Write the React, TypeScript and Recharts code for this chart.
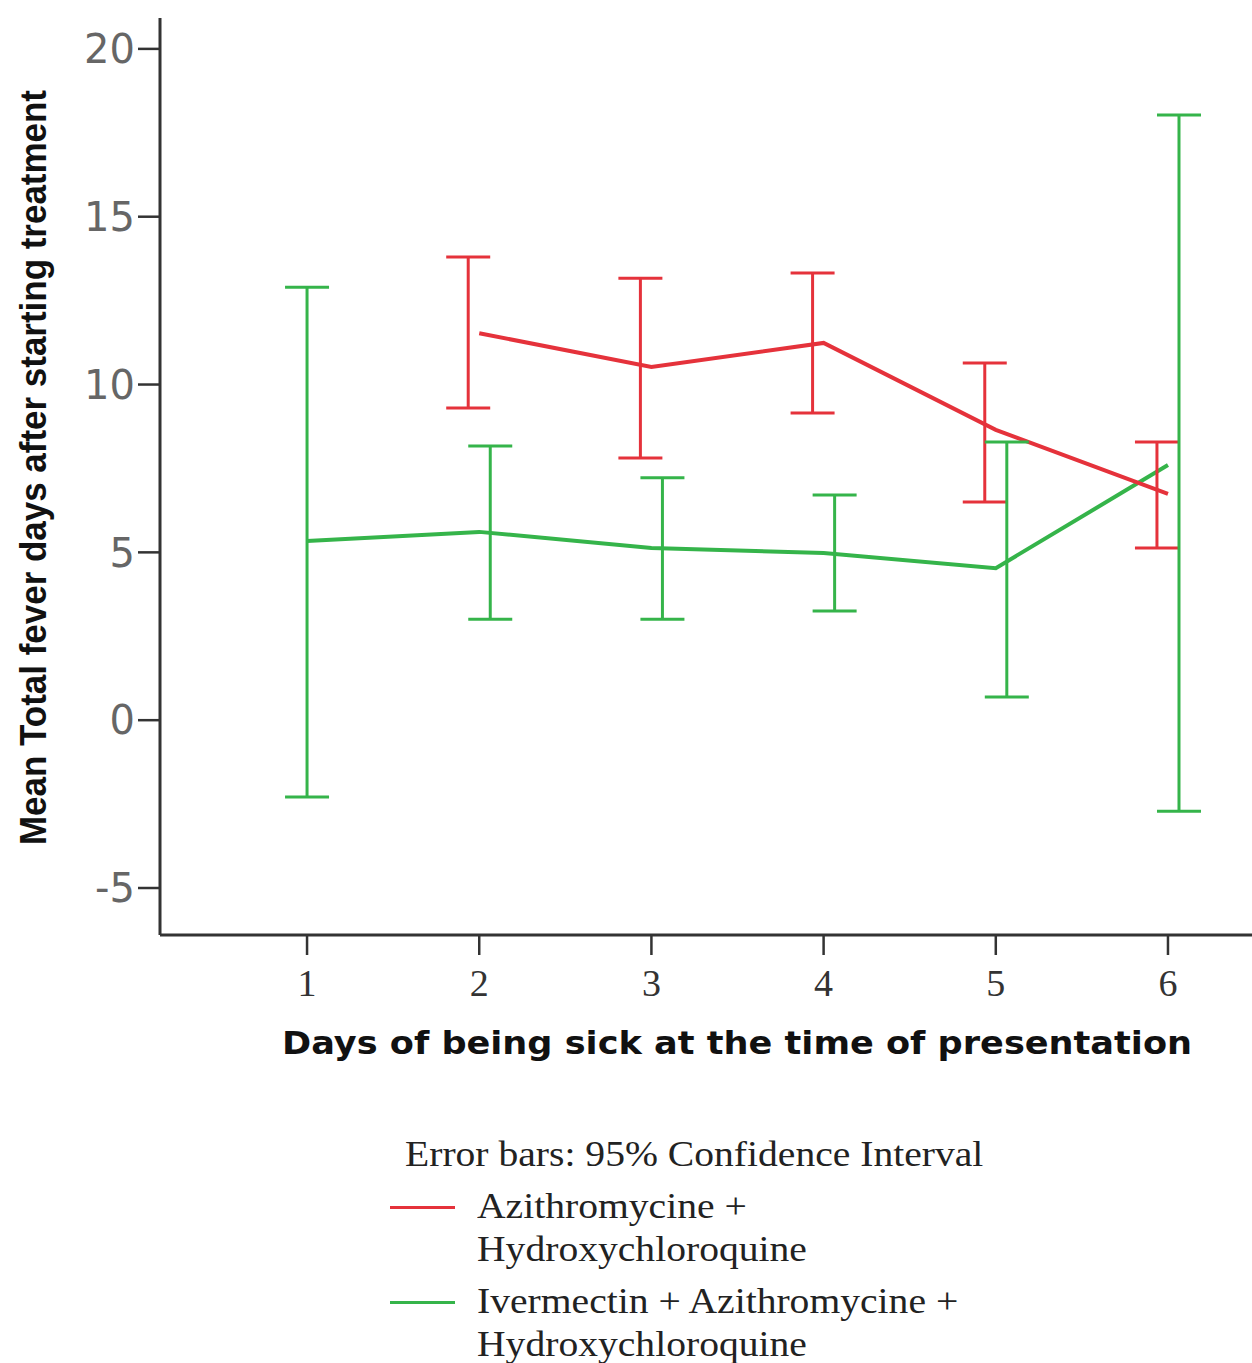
import React from "react";
import { ComposedChart, Line, XAxis, YAxis, ErrorBar } from "recharts";

// days of being sick at presentation
const dayTicks = [1, 2, 3, 4, 5, 6];
const yTicks = [-5, 0, 5, 10, 15, 20];

// Azithromycine + Hydroxychloroquine
const redDays = [2, 3, 4, 5, 6];
const redMean = [11.53, 10.52, 11.24, 8.65, 6.74];
const redLow = [9.3, 7.81, 9.15, 6.5, 5.13];
const redHigh = [13.8, 13.17, 13.32, 10.64, 8.29];

// Ivermectin + Azithromycine + Hydroxychloroquine
const greenDays = [1, 2, 3, 4, 5, 6];
const greenMean = [5.34, 5.61, 5.13, 4.98, 4.53, 7.6];
const greenLow = [-2.29, 3.01, 3.01, 3.25, 0.69, -2.71];
const greenHigh = [12.9, 8.17, 7.22, 6.71, 8.29, 18.03];

const RED = "#e5323b";
const GREEN = "#35b44a";
const AXIS = "#333";
const DODGE = 0.064; // SPSS shifts the error bars apart when both groups share a day

function buildMean(days: number[], mean: number[]) {
  return days.map((d, i) => ({ x: d, mean: mean[i] }));
}

function buildErr(days: number[], mean: number[], low: number[], high: number[], other: number[], side: number) {
  return days.map((d, i) => ({
    x: other.includes(d) ? d + side * DODGE : d,
    mean: mean[i],
    err: [mean[i] - low[i], high[i] - mean[i]],
  }));
}

const redLine = buildMean(redDays, redMean);
const greenLine = buildMean(greenDays, greenMean);
const redErr = buildErr(redDays, redMean, redLow, redHigh, greenDays, -1);
const greenErr = buildErr(greenDays, greenMean, greenLow, greenHigh, redDays, 1);

const YTitle = (props: any) => {
  const vb = props.viewBox;
  const cx = 33;
  const cy = vb.y + vb.height / 2 - 9;
  return (
    <text
      x={cx}
      y={cy}
      transform={`rotate(-90 ${cx} ${cy})`}
      textAnchor="middle"
      dominantBaseline="central"
      fontFamily="'Liberation Sans Narrow', 'Liberation Sans', Arial, sans-serif"
      fontWeight="bold"
      fontSize={37}
      fill="#111"
      textLength={755}
      lengthAdjust="spacingAndGlyphs"
    >
      Mean Total fever days after starting treatment
    </text>
  );
};

const XTitle = (props: any) => {
  const vb = props.viewBox;
  return (
    <text
      x={737}
      y={vb.y + 108}
      textAnchor="middle"
      dominantBaseline="central"
      fontFamily="'DejaVu Sans', Verdana, sans-serif"
      fontWeight="bold"
      fontSize={32}
      fill="#111"
      textLength={910}
      lengthAdjust="spacingAndGlyphs"
    >
      Days of being sick at the time of presentation
    </text>
  );
};

const legendText: React.CSSProperties = {
  fontFamily: "'Liberation Serif', 'Times New Roman', serif",
  fontSize: 36,
  color: "#222",
  lineHeight: "43px",
  whiteSpace: "nowrap",
  transform: "scaleX(1.1)",
  transformOrigin: "left top",
};

function LegendRow({ color, lines, top }: { color: string; lines: string[]; top: number }) {
  return (
    <div style={{ position: "absolute", left: 390, top }}>
      <div style={{ position: "absolute", left: 0, top: 21, width: 65, height: 3, background: color }} />
      <div style={{ position: "absolute", left: 87, top: 0, ...legendText }}>
        {lines.map((l) => (
          <div key={l}>{l}</div>
        ))}
      </div>
    </div>
  );
}

export default function App() {
  return (
    <div style={{ position: "absolute", left: 0, top: 0, width: 1252, height: 1363, background: "#fff", overflow: "hidden" }}>
      <ComposedChart width={1252} height={1080} margin={{ top: 18, right: 0, bottom: 0, left: 0 }}>
        <XAxis
          type="number"
          dataKey="x"
          domain={[0.146, 6.488]}
          ticks={dayTicks}
          allowDataOverflow
          height={145}
          axisLine={{ stroke: AXIS, strokeWidth: 3 }}
          tickLine={{ stroke: AXIS, strokeWidth: 2.5 }}
          tickSize={20}
          tickMargin={14}
          tick={{ fill: "#333", fontSize: 38, fontFamily: "'Liberation Serif', serif" }}
          label={<XTitle />}
        />
        <YAxis
          type="number"
          domain={[-6.4, 20.92]}
          ticks={yTicks}
          allowDataOverflow
          width={160}
          axisLine={{ stroke: AXIS, strokeWidth: 3 }}
          tickLine={{ stroke: AXIS, strokeWidth: 2.5 }}
          tickSize={22}
          tickMargin={3}
          tick={{ fill: "#666", fontSize: 40, fontFamily: "'DejaVu Sans', sans-serif" }}
          label={<YTitle />}
        />
        <Line data={greenLine} dataKey="mean" stroke={GREEN} strokeWidth={4} dot={false} activeDot={false} isAnimationActive={false} />
        <Line data={redLine} dataKey="mean" stroke={RED} strokeWidth={4} dot={false} activeDot={false} isAnimationActive={false} />
        <Line data={redErr} dataKey="mean" stroke="none" dot={false} activeDot={false} isAnimationActive={false}>
          <ErrorBar dataKey="err" direction="y" width={22} stroke={RED} strokeWidth={3} />
        </Line>
        <Line data={greenErr} dataKey="mean" stroke="none" dot={false} activeDot={false} isAnimationActive={false}>
          <ErrorBar dataKey="err" direction="y" width={22} stroke={GREEN} strokeWidth={3} />
        </Line>
      </ComposedChart>
      <div style={{ position: "absolute", left: 405, top: 1133, ...legendText }}>Error bars: 95% Confidence Interval</div>
      <LegendRow color={RED} lines={["Azithromycine +", "Hydroxychloroquine"]} top={1185} />
      <LegendRow color={GREEN} lines={["Ivermectin + Azithromycine +", "Hydroxychloroquine"]} top={1280} />
    </div>
  );
}
